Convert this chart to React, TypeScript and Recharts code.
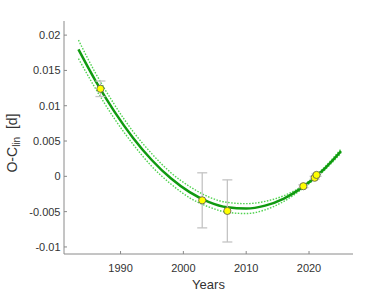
import { ComposedChart, Line, Scatter, ErrorBar, XAxis, YAxis } from 'recharts';

// observations (year, O-C, error)
const obsYears = [1986.8, 2003.0, 2007.0, 2019.1, 2020.9, 2021.2];
const obsOC = [0.0124, -0.0034, -0.0049, -0.0014, -0.0002, 0.0002];
const obsErr = [0.0011, 0.0039, 0.0044, 0.0002, 0.0002, 0.0002];

// quadratic fit, with its confidence band
const fitYears = [1983.3, 1986, 1989, 1992, 1995, 1998, 2001, 2004, 2007, 2010, 2013, 2016, 2019, 2022, 2025.1];
const fitOC = [0.01797, 0.01355, 0.0092, 0.00544, 0.00228, -0.00028, -0.00224, -0.00361, -0.00439, -0.00457, -0.00415, -0.00314, -0.00153, 0.00068, 0.00358];
const fitUpper = [0.0193, 0.01465, 0.0102, 0.00634, 0.00318, 0.00052, -0.00144, -0.00291, -0.00369, -0.00387, -0.00355, -0.00274, -0.00133, 0.00088, 0.00388];
const fitLower = [0.01667, 0.01245, 0.0082, 0.00454, 0.00138, -0.00108, -0.00304, -0.00431, -0.00509, -0.00527, -0.00475, -0.00354, -0.00173, 0.00048, 0.00328];

const xTicks = [1990, 2000, 2010, 2020];
const yTicks = [-0.01, -0.005, 0, 0.005, 0.01, 0.015, 0.02];

const obsData = obsYears.map((year, i) => ({ year, oc: obsOC[i], err: obsErr[i] }));
const fitData = fitYears.map((year, i) => ({ year, fit: fitOC[i], upper: fitUpper[i], lower: fitLower[i] }));

const axisColor = '#8a8a8a';
const textColor = '#333';
const font = 'Liberation Sans, Arial, sans-serif';

const BottomTick = (props) => {
  const { x, y, payload } = props;
  return (
    <g>
      <line x1={x} x2={x} y1={y} y2={y - 3} stroke={axisColor} />
      <text x={x} y={y + 17.5} textAnchor="middle" fill={textColor} fontSize={11} fontFamily={font}>
        {payload.value}
      </text>
    </g>
  );
};

const TopTick = (props) => {
  const { x, y } = props;
  return <line x1={x} x2={x} y1={y} y2={y + 3} stroke={axisColor} />;
};

const LeftTick = (props) => {
  const { x, y, payload } = props;
  return (
    <g>
      <line x1={x} x2={x + 3} y1={y} y2={y} stroke={axisColor} />
      <text x={x - 3.5} y={y} dy="0.36em" textAnchor="end" fill={textColor} fontSize={11} fontFamily={font}>
        {String(payload.value)}
      </text>
    </g>
  );
};

const RightTick = (props) => {
  const { x, y } = props;
  return <line x1={x} x2={x - 3} y1={y} y2={y} stroke={axisColor} />;
};

const renderYLabel = () => (
  <text transform="translate(17,143) rotate(-90)" textAnchor="middle" fill={textColor} fontSize={14} fontFamily={font}>
    O-C
    <tspan fontSize={10} dy={3}>lin</tspan>
    <tspan dy={-3}>{'\u00a0\u00a0[d]'}</tspan>
  </text>
);

const Dot = (props) => {
  const { cx, cy } = props;
  return <circle cx={cx} cy={cy} r={3.6} fill="#ffff00" stroke="#555" strokeWidth={0.8} />;
};

export default function App() {
  return (
    <div style={{ position: 'absolute', left: 0, top: 0, background: '#fff' }}>
      <ComposedChart width={390} height={293} margin={{ top: 21, right: 37, bottom: 0, left: 0 }}>
        <XAxis
          dataKey="year"
          type="number"
          domain={[1981, 2027]}
          ticks={xTicks}
          allowDataOverflow
          height={39}
          stroke={axisColor}
          tickSize={0}
          tickMargin={0}
          tickLine={false}
          tick={BottomTick}
          label={{ value: 'Years', position: 'insideBottom', offset: 4, fill: textColor, fontSize: 13, fontFamily: font }}
        />
        <XAxis
          xAxisId="top"
          orientation="top"
          dataKey="year"
          type="number"
          domain={[1981, 2027]}
          ticks={xTicks}
          allowDataOverflow
          height={0}
          stroke={axisColor}
          tickSize={0}
          tickMargin={0}
          tickLine={false}
          tick={TopTick}
        />
        <YAxis
          type="number"
          domain={[-0.011, 0.022]}
          ticks={yTicks}
          allowDataOverflow
          width={64}
          stroke={axisColor}
          tickSize={0}
          tickMargin={0}
          tickLine={false}
          tick={LeftTick}
          label={{ content: renderYLabel }}
        />
        <YAxis
          yAxisId="right"
          orientation="right"
          type="number"
          domain={[-0.011, 0.022]}
          ticks={yTicks}
          allowDataOverflow
          width={0}
          stroke={axisColor}
          tickSize={0}
          tickMargin={0}
          tickLine={false}
          tick={RightTick}
        />
        <Line data={fitData} dataKey="upper" type="monotone" stroke="#4fd24f" strokeWidth={1.4} strokeDasharray="1.5 1.5" dot={false} isAnimationActive={false} />
        <Line data={fitData} dataKey="lower" type="monotone" stroke="#4fd24f" strokeWidth={1.4} strokeDasharray="1.5 1.5" dot={false} isAnimationActive={false} />
        <Line data={fitData} dataKey="fit" type="monotone" stroke="#109a10" strokeWidth={2.5} dot={false} isAnimationActive={false} />
        <Scatter data={obsData} dataKey="oc" shape={Dot} isAnimationActive={false}>
          <ErrorBar dataKey="err" direction="y" width={5} stroke="#c4c4c4" strokeWidth={1.3} />
        </Scatter>
      </ComposedChart>
    </div>
  );
}
